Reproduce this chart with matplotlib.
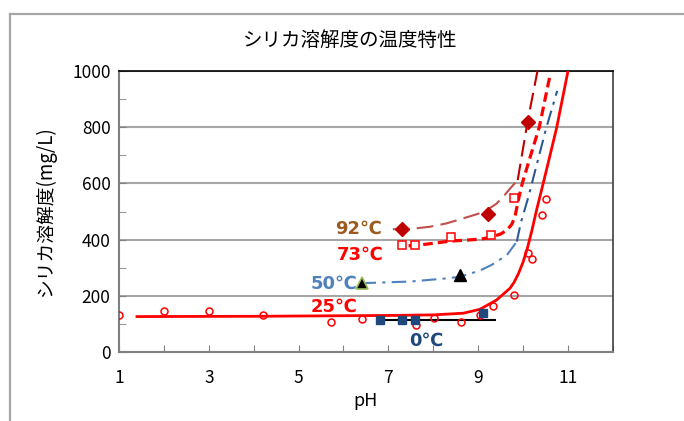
import matplotlib.pyplot as plt
from matplotlib.lines import Line2D

plt.rcParams['font.family'] = ['Noto Sans CJK JP', 'DejaVu Sans']

# 測定値 (pH, シリカ溶解度 mg/L)
ph_25 = [1.0, 2.0, 3.0, 4.2, 5.72, 6.42, 7.62, 8.01, 8.62, 9.03, 9.33, 9.8, 10.1, 10.2, 10.42, 10.51]
sol_25 = [131, 145, 145, 131, 105, 117, 95, 122, 105, 131, 163, 202, 352, 331, 489, 545]

ph_0 = [6.81, 7.3, 7.6, 9.1]
sol_0 = [114, 114, 114, 139]

ph_50 = [6.41, 8.6]
sol_50 = [246, 275]

ph_73 = [7.31, 7.6, 8.4, 9.29, 9.8]
sol_73 = [382, 382, 411, 418, 548]

ph_92 = [7.31, 9.21, 10.1]
sol_92 = [437, 492, 818]

# 近似曲線 (読み取り点)
fit25_ph = [1.4, 4.0, 6.0, 7.0, 8.0, 8.67, 9.04, 9.41, 9.71, 9.8, 9.9, 10.0, 10.1, 10.2,
            10.3, 10.44, 10.6, 10.75, 11.0]
fit25_sol = [126, 127, 129, 130, 132, 138, 152, 185, 227, 248, 280, 320, 372, 435,
             505, 595, 700, 800, 1000]

fit0_ph = [6.85, 9.37]
fit0_sol = [115, 115]

fit50_ph = [6.4, 6.81, 7.5, 8.3, 8.6, 9.04, 9.3, 9.64, 9.86]
fit50_sol = [245, 247, 251, 262, 268, 290, 310, 345, 393]
fit50b_ph = [9.86, 9.95, 10.12, 10.33, 10.52, 10.76]
fit50b_sol = [393, 460, 553, 683, 800, 930]

fit73_ph = [7.45, 7.7, 8.0, 8.39, 8.82, 9.1, 9.3, 9.5, 9.64, 9.75, 9.82, 9.88, 9.95, 10.0,
            10.15, 10.36, 10.6]
fit73_sol = [378, 381, 387, 395, 399, 403, 409, 420, 434, 455, 482, 530, 580, 610,
             690, 800, 985]

fit92_ph = [7.1, 7.5, 7.93, 8.3, 8.67, 9.0, 9.19, 9.4, 9.56, 9.7, 9.88]
fit92_sol = [437, 438, 446, 458, 476, 492, 505, 527, 553, 580, 612]
fit92b_ph = [9.88, 10.1, 10.32]
fit92b_sol = [612, 820, 1000]

fig = plt.figure(figsize=(6.84, 4.21), dpi=100)
ax = fig.add_axes([0.174, 0.164, 0.722, 0.667])

# 外枠
fig.add_artist(Line2D([10 / 684, 10 / 684], [0, 1 - 14 / 421], color='#A6A6A6', lw=1.6,
                      transform=fig.transFigure))
fig.add_artist(Line2D([10 / 684, 1], [1 - 14 / 421, 1 - 14 / 421], color='#A6A6A6', lw=1.6,
                      transform=fig.transFigure))

# 曲線
ax.plot(fit25_ph, fit25_sol, color='#FF0000', lw=2.0, zorder=3)
ax.plot(fit0_ph, fit0_sol, color='black', lw=1.5, zorder=3)
ax.plot(fit50_ph, fit50_sol, color='#4F81BD', lw=1.5, dashes=(7, 3, 1.5, 3), zorder=3)
ax.plot(fit50b_ph, fit50b_sol, color='#2E5A94', lw=1.5, dashes=(7, 3, 1.5, 3), zorder=3)
ax.plot(fit73_ph, fit73_sol, color='#FF0000', lw=2.3, dashes=(3, 1.6), zorder=3)
ax.plot(fit92_ph, fit92_sol, color='#C0504D', lw=1.5, dashes=(8, 3.5), zorder=3)
ax.plot(fit92b_ph, fit92b_sol, color='#C00000', lw=1.5, dashes=(8, 3.5), zorder=3)

# 測定点
ax.plot(ph_25, sol_25, 'o', ms=5, mfc='none', mec='#FF0000', mew=1.1, zorder=4)
ax.plot(ph_0, sol_0, 's', ms=6, color='#1F497D', zorder=4)
ax.plot(ph_50[:1], sol_50[:1], '^', ms=9, color='black', mec='#9BBB59', mew=1.2, zorder=4)
ax.plot(ph_50[1:], sol_50[1:], '^', ms=9, color='black', zorder=4)
ax.plot(ph_73, sol_73, 's', ms=5.5, mfc='white', mec='#FF0000', mew=1.1, zorder=4)
ax.plot(ph_92, sol_92, 'D', ms=7.5, color='#C00000', zorder=4)

# 温度ラベル
lab_kw = dict(fontsize=13, fontweight='bold', family=['DejaVu Sans', 'Noto Sans CJK JP'])
ax.text(6.85, 440, '92℃', color='#9C5A1E', ha='right', va='center', **lab_kw)
ax.text(6.88, 345, '73℃', color='#FF0000', ha='right', va='center', **lab_kw)
ax.text(6.32, 244, '50℃', color='#4F81BD', ha='right', va='center', **lab_kw)
ax.text(6.3, 160, '25℃', color='#FF0000', ha='right', va='center', **lab_kw)
ax.text(7.84, 40, '0℃', color='#1F497D', ha='center', va='center', **lab_kw)

ax.set_xlim(1, 12)
ax.set_ylim(0, 1000)
ax.set_xticks(range(1, 13))
ax.set_xticklabels([str(v) if v % 2 == 1 else '' for v in range(1, 13)])
ax.set_yticks(range(0, 1001, 200))
ax.set_yticks(range(100, 1000, 200), minor=True)
ax.tick_params(axis='both', which='both', direction='in', length=5, color='#808080',
               labelsize=12.5, labelcolor='black')
ax.tick_params(axis='x', pad=12)
ax.tick_params(axis='y', pad=6)
ax.grid(True, axis='y', which='major', color='#A6A6A6', lw=1.5, zorder=1)
ax.set_axisbelow(True)

for s in ['left', 'bottom']:
    ax.spines[s].set_color('#808080')
    ax.spines[s].set_linewidth(1.5)
ax.spines['top'].set_color('black')
ax.spines['top'].set_linewidth(1.2)
ax.spines['right'].set_color('#404040')
ax.spines['right'].set_linewidth(1.2)

ax.set_xlabel('pH', fontsize=13, labelpad=4)
ax.set_ylabel('シリカ溶解度(mg/L)', fontsize=13.5, labelpad=12)
fig.text(0.512, 1 - 40 / 421, 'シリカ溶解度の温度特性', fontsize=14, ha='center', va='center')

fig.savefig('out.png', dpi=100)
